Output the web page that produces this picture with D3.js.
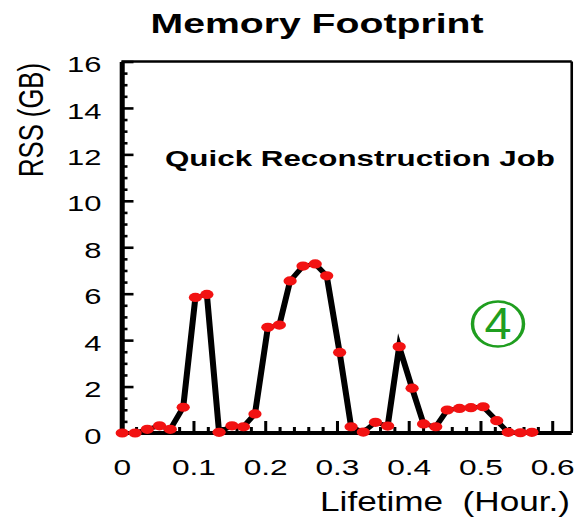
<!DOCTYPE html>
<html>
<head>
<meta charset="utf-8">
<script src="https://cdn.jsdelivr.net/npm/d3@7"></script>
<style>
  html, body { margin: 0; padding: 0; background: #fff; }
  svg { display: block; }
  text { font-family: "Liberation Sans", Arial, Helvetica, sans-serif; }
</style>
</head>
<body>
<svg id="chart" width="579" height="518"></svg>
<script>
// ---- data ----
const timeHours = [0.001, 0.019, 0.036, 0.053, 0.068, 0.086, 0.103, 0.119, 0.136, 0.154,
                   0.170, 0.186, 0.204, 0.220, 0.235, 0.253, 0.270, 0.286, 0.304, 0.320,
                   0.337, 0.354, 0.371, 0.387, 0.405, 0.421, 0.438, 0.454, 0.471, 0.487,
                   0.504, 0.523, 0.539, 0.556, 0.572];
const rssGB = [0.0, 0.0, 0.16, 0.31, 0.16, 1.11, 5.84, 5.97, 0.03, 0.31,
               0.27, 0.82, 4.55, 4.65, 6.55, 7.19, 7.28, 6.77, 3.47, 0.27,
               0.04, 0.46, 0.30, 3.72, 1.93, 0.39, 0.27, 0.99, 1.06, 1.09,
               1.13, 0.53, 0.03, 0.01, 0.03];
const xTicks = [0, 0.1, 0.2, 0.3, 0.4, 0.5, 0.6];
const xTickLabels = ["0", "0.1", "0.2", "0.3", "0.4", "0.5", "0.6"];
const yTicks = [0, 2, 4, 6, 8, 10, 12, 14, 16];
const yTickLabels = ["0", "2", "4", "6", "8", "10", "12", "14", "16"];
const titleText = "Memory Footprint";
const subtitleText = "Quick Reconstruction Job";
const xLabelText = "Lifetime\u00a0\u00a0(Hour.)";
const yLabelText = "RSS (GB)";
const markerText = "4";

// ---- layout ----
const sx = 1.44; // the original picture is stretched horizontally
const svg = d3.select("#chart");
svg.append("rect").attr("width", 579).attr("height", 518).attr("fill", "#fff");
const g = svg.append("g").attr("transform", `scale(${sx},1)`);

const x = d3.scaleLinear().domain([0, 0.6]).range([121.5 / sx, 552 / sx]);
const y = d3.scaleLinear().domain([0, 16]).range([433, 61.5]);
const xMax = 0.6275;

// frame (top / right, thin)
g.append("line").attr("x1", x(0)).attr("x2", x(xMax)).attr("y1", y(16)).attr("y2", y(16))
  .attr("stroke", "#000").attr("stroke-width", 2.4);
g.append("line").attr("x1", x(xMax)).attr("x2", x(xMax)).attr("y1", y(16)).attr("y2", y(0))
  .attr("stroke", "#000").attr("stroke-width", 1.8);

// minor ticks
const yMinor = d3.range(0, 16.001, 0.5).filter(v => Math.abs(v / 2 - Math.round(v / 2)) > 1e-6);
const xMinor = d3.range(0, 0.62, 0.02).filter(v => Math.abs(v * 10 - Math.round(v * 10)) > 1e-6);

g.append("g").attr("transform", `translate(${x(0)},0)`)
  .call(d3.axisLeft(y).tickValues(yMinor).tickSize(-6 / sx).tickFormat(""))
  .call(s => s.select(".domain").remove())
  .call(s => s.selectAll("line").attr("stroke", "#000").attr("stroke-width", 2.6));

g.append("g").attr("transform", `translate(0,${y(0)})`)
  .call(d3.axisBottom(x).tickValues(xMinor).tickSize(-6).tickFormat(""))
  .call(s => s.select(".domain").remove())
  .call(s => s.selectAll("line").attr("stroke", "#000").attr("stroke-width", 2.1));

// major axes
const yAxis = g.append("g").attr("transform", `translate(${x(0)},0)`)
  .call(d3.axisLeft(y).tickValues(yTicks).tickSize(-12 / sx).tickSizeOuter(0)
        .tickPadding(20 / sx).tickFormat((d, i) => yTickLabels[i]));
yAxis.select(".domain").attr("stroke", "#000").attr("stroke-width", 3.5);
yAxis.selectAll(".tick line").attr("stroke", "#000").attr("stroke-width", 2.6);
yAxis.selectAll(".tick text").attr("font-size", 21.5).attr("fill", "#000")
  .attr("dy", "0.47em").attr("font-family", "Liberation Sans, Arial, sans-serif");

const xAxis = g.append("g").attr("transform", `translate(0,${y(0)})`)
  .call(d3.axisBottom(x).tickValues(xTicks).tickSize(-12).tickSizeOuter(0)
        .tickFormat((d, i) => xTickLabels[i]));
xAxis.select(".domain").attr("stroke", "#000").attr("stroke-width", 4)
  .attr("d", `M${x(0)},0H${x(xMax)}`);
xAxis.selectAll(".tick line").attr("stroke", "#000").attr("stroke-width", 2.1);
xAxis.selectAll(".tick text").attr("font-size", 22).attr("fill", "#000")
  .attr("y", 42).attr("dy", 0).attr("font-family", "Liberation Sans, Arial, sans-serif");

// data line + markers
const pts = timeHours.map((t, i) => [t, rssGB[i]]);
g.append("path").datum(pts)
  .attr("d", d3.line().x(d => x(d[0])).y(d => y(d[1])))
  .attr("fill", "none").attr("stroke", "#000").attr("stroke-width", 4.2)
  .attr("stroke-linejoin", "miter").attr("stroke-miterlimit", 10);
g.selectAll("circle.pt").data(pts).join("circle").attr("class", "pt")
  .attr("cx", d => x(d[0])).attr("cy", d => y(d[1])).attr("r", 4.6)
  .attr("fill", "#f21212");

// texts
function fitText(txt, cx, baseline, size, weight, width) {
  return g.append("text").attr("x", cx / sx).attr("y", baseline)
    .attr("text-anchor", "middle").attr("font-size", size).attr("font-weight", weight)
    .attr("fill", "#000").attr("textLength", width / sx)
    .attr("lengthAdjust", "spacingAndGlyphs").text(txt);
}
fitText(titleText, 317, 33, 28, "bold", 333);
fitText(subtitleText, 360, 166, 22, "bold", 390);

// x-axis title: scaled directly so its natural box matches the reference width
const xLab = svg.append("text").attr("text-anchor", "middle").attr("font-size", 28)
  .attr("fill", "#000").text(xLabelText);
const natW = xLab.node().getComputedTextLength();
xLab.attr("transform", `translate(445,511) scale(${250 / natW},1)`);

g.append("text")
  .attr("transform", `translate(${43 / sx},120) rotate(-90)`)
  .attr("text-anchor", "middle").attr("font-size", 25).attr("fill", "#000")
  .attr("textLength", 114).attr("lengthAdjust", "spacingAndGlyphs")
  .text(yLabelText);

// circled marker
const green = "#1f9e1f";
g.append("ellipse").attr("cx", 498 / sx).attr("cy", 324).attr("rx", 25.5 / sx).attr("ry", 22.5)
  .attr("fill", "none").attr("stroke", green).attr("stroke-width", 2.4);
g.append("text").attr("x", 498 / sx).attr("y", 339).attr("text-anchor", "middle")
  .attr("font-size", 45).attr("fill", green)
  .attr("textLength", 27 / sx).attr("lengthAdjust", "spacingAndGlyphs").text(markerText);
</script>
</body>
</html>
